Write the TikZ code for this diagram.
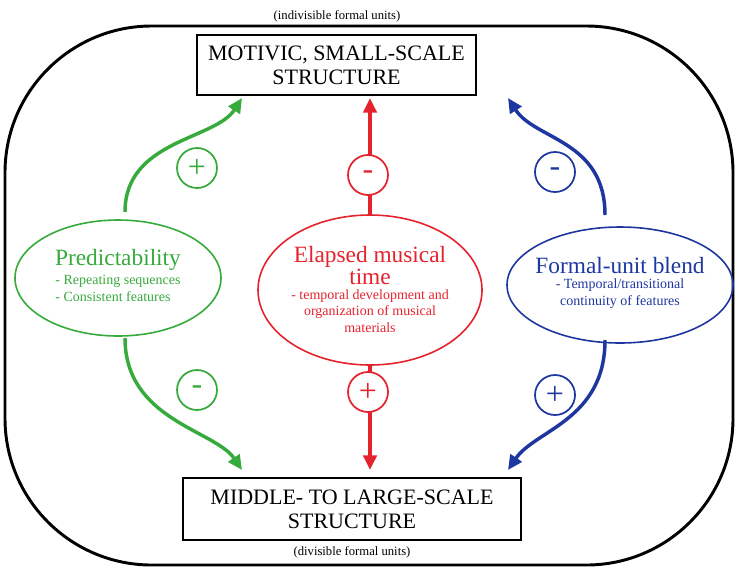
\documentclass[tikz,border=0pt]{standalone}
\usepackage{fontspec}
\setmainfont{Liberation Serif}
\usetikzlibrary{arrows.meta}
\definecolor{cg}{RGB}{55,170,60}
\definecolor{cr}{RGB}{228,35,45}
\definecolor{cb}{RGB}{30,55,160}
\newcommand{\bigf}{\fontsize{17.5}{19}\selectfont}
\newcommand{\smf}{\fontsize{10.5}{12.5}\selectfont}
\begin{document}
\begin{tikzpicture}[x=0.75pt,y=-0.75pt,
 box/.style={draw,line width=2.2pt,align=center,font=\fontsize{16.5}{18}\selectfont,inner sep=0pt,fill=white},
 arr/.style={line width=2.6pt,-{Triangle[length=11pt,width=10pt]}},
 sgn/.style={draw,circle,line width=1.3pt,minimum size=30pt,inner sep=0pt,font=\fontsize{24}{24}\selectfont}]
\useasboundingbox (0,0) rectangle (738,572);
\draw[line width=2.2pt,rounded corners=110pt] (5,26) rectangle (733,565);
\node[box,minimum width=279*0.75pt,minimum height=60*0.75pt] (top) at (336.5,65) {MOTIVIC, SMALL-SCALE\\STRUCTURE};
\node[box,minimum width=338*0.75pt,minimum height=62*0.75pt] (bot) at (352,509) {MIDDLE- TO LARGE-SCALE\\STRUCTURE};
\node[font=\fontsize{9.5}{10}\selectfont,fill=white,inner sep=1pt] (tl) at (337,16) {(indivisible formal units)};
\node[font=\fontsize{9.5}{10}\selectfont] (bl) at (352,552) {(divisible formal units)};
% ellipses
\draw[cg,line width=1.2pt] (118,278) ellipse (103 and 58);
\node[cg,align=center] (g) at (118,278) {\bigf Predictability\\[1pt]
 \smf\begin{tabular}{@{}l@{}}- Repeating sequences\\- Consistent features\end{tabular}};
\draw[cr,line width=1.2pt] (370,290) ellipse (112 and 75);
\node[cr,align=center] (r) at (370,292) {\bigf Elapsed musical\\\bigf time\\[1pt]
 \smf\begin{tabular}{@{}c@{}}- temporal development and\\organization of musical\\materials\end{tabular}};
\draw[cb,line width=1.2pt] (620,285) ellipse (113 and 58);
\node[cb,align=center] (b) at (620,284) {\bigf Formal-unit blend\\[1pt]
 \smf\begin{tabular}{@{}c@{}}- Temporal/transitional\\continuity of features\end{tabular}};
% coordinates
\coordinate (g1) at (125,212); \coordinate (g1e) at (242,98);
\coordinate (g2) at (125,338); \coordinate (g2e) at (242,470);
\coordinate (r1) at (370,215); \coordinate (r1e) at (370,98);
\coordinate (r2) at (370,366); \coordinate (r2e) at (370,470);
\coordinate (b1) at (605,215); \coordinate (b1e) at (508,98);
\coordinate (b2) at (605,340); \coordinate (b2e) at (508,470);
\draw[arr,cg] (g1) .. controls (125,140) and (215,140) .. (g1e);
\draw[arr,cg] (g2) .. controls (125,420) and (215,430) .. (g2e);
\draw[arr,cr] (r1) -- (r1e);
\draw[arr,cr] (r2) -- (r2e);
\draw[arr,cb] (b1) .. controls (605,140) and (535,140) .. (b1e);
\draw[arr,cb] (b2) .. controls (605,420) and (535,430) .. (b2e);
\node[sgn,cg,fill=white] (s1) at (197,168) {+};
\node[sgn,cg,fill=white] (s2) at (197,390) {-};
\node[sgn,cr,fill=white] (s3) at (368,175) {-};
\node[sgn,cr,fill=white] (s4) at (368,392) {+};
\node[sgn,cb,fill=white] (s5) at (555,172) {-};
\node[sgn,cb,fill=white] (s6) at (555,395) {+};
\end{tikzpicture}
\end{document}
